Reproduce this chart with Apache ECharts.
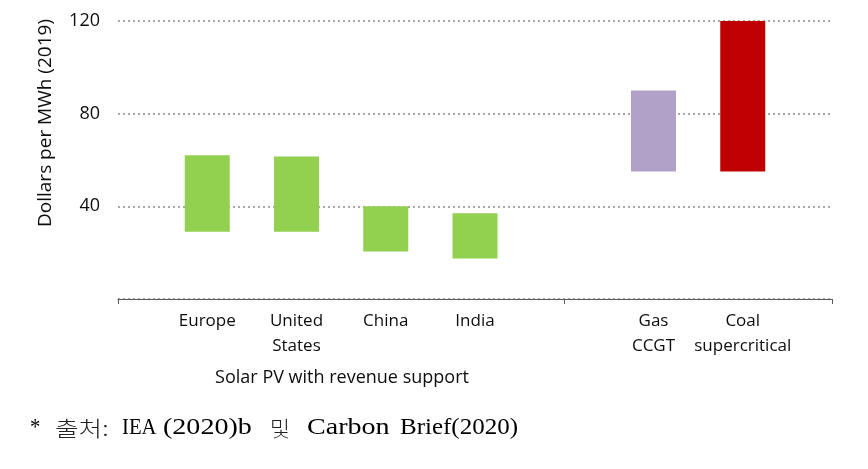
<!DOCTYPE html>
<html><head><meta charset="utf-8">
<script src="https://cdn.jsdelivr.net/npm/echarts@6/dist/echarts.min.js"></script>
<style>html,body{margin:0;padding:0;background:#fff}#c{width:868px;height:469px}</style>
</head><body><div id="c"></div>
<script>
const categories = ['', 'Europe', 'United\nStates', 'China', 'India', '', 'Gas\nCCGT', 'Coal\nsupercritical', ''];
const lowValues  = [null, 29, 29, 20.5, 17.5, null, 55, 55, null];
const highValues = [null, 62, 61.5, 40, 37, null, 90, 120, null];
const barColors  = [null, '#92D050', '#92D050', '#92D050', '#92D050', null, '#B1A0C7', '#C00000', null];
const yTicks = [40, 80, 120];
const yAxisTitle = 'Dollars per MWh (2019)';
const groupLabel = 'Solar PV with revenue support';
const sourceWords = ['*', '출처:', 'IEA', '(2020)b', '및', 'Carbon', 'Brief(2020)'];

const font = '"Open Sans", sans-serif';
const serif = '23px "Liberation Serif", serif';
const cjk = '300 21px "Noto Sans CJK KR", sans-serif';
// layout of the footnote words: [left, right] in pixels
const wordBoxes = [[30, 38], [55, 112], [122, 155], [163, 262], [270, 290], [307, 392], [400, 518]];

const mctx = document.createElement('canvas').getContext('2d');
function measure(text, f) { mctx.font = f; return mctx.measureText(text).width; }

const noteGraphics = sourceWords.map((w, i) => {
  const isCjk = /[\uac00-\ud7af]/.test(w);
  const f = isCjk ? cjk : serif;
  const [l, r] = wordBoxes[i];
  const mw = measure(w, f);
  let sx = (r - l) / mw;
  sx = Math.min(Math.max(sx, 0.9), 1.22);
  return { type: 'text', x: l, y: 428, scaleX: sx, scaleY: 1,
    style: { text: w, font: f, fill: isCjk ? '#222' : '#000', align: 'left', verticalAlign: 'middle' } };
});

const chart = echarts.init(document.getElementById('c'));
const spans = highValues.map((h, i) => h == null ? null : {
  value: +(h - lowValues[i]).toFixed(2),
  itemStyle: { color: barColors[i] }
});
chart.setOption({
  animation: false,
  grid: { left: 118, right: 36, top: 21, bottom: 170 },
  xAxis: {
    type: 'category', data: categories, boundaryGap: false,
    axisLine: { lineStyle: { color: '#595959', width: 1 } },
    axisTick: { length: 5, lineStyle: { color: '#595959' },
      interval: (i) => i === 0 || i === 5 || i === 8 },
    axisLabel: { color: '#0d0d0d', fontFamily: font, fontSize: 17, lineHeight: 25, margin: 10,
      interval: 0 }
  },
  yAxis: {
    type: 'value', min: 0, max: 120, interval: 40,
    axisLine: { show: false }, axisTick: { show: false },
    axisLabel: { color: '#0d0d0d', fontFamily: font, fontSize: 18, margin: 18,
      formatter: v => yTicks.includes(v) ? String(v) : '' },
    splitLine: { lineStyle: { type: [2, 3], color: '#8c8c8c', width: 1.5 } }
  },
  series: [
    { type: 'bar', stack: 's', barWidth: 45, data: lowValues,
      itemStyle: { color: 'transparent' }, silent: true },
    { type: 'bar', stack: 's', barWidth: 45, data: spans }
  ],
  graphic: [
    { type: 'text', x: 46, y: 123, rotation: Math.PI / 2,
      style: { text: yAxisTitle, font: '19px ' + font, fill: '#0d0d0d', align: 'center', verticalAlign: 'middle' } },
    { type: 'text', x: 342, y: 378,
      style: { text: groupLabel, font: '18px ' + font, fill: '#0d0d0d', align: 'center', verticalAlign: 'middle' } }
  ].concat(noteGraphics)
});
</script></body></html>
